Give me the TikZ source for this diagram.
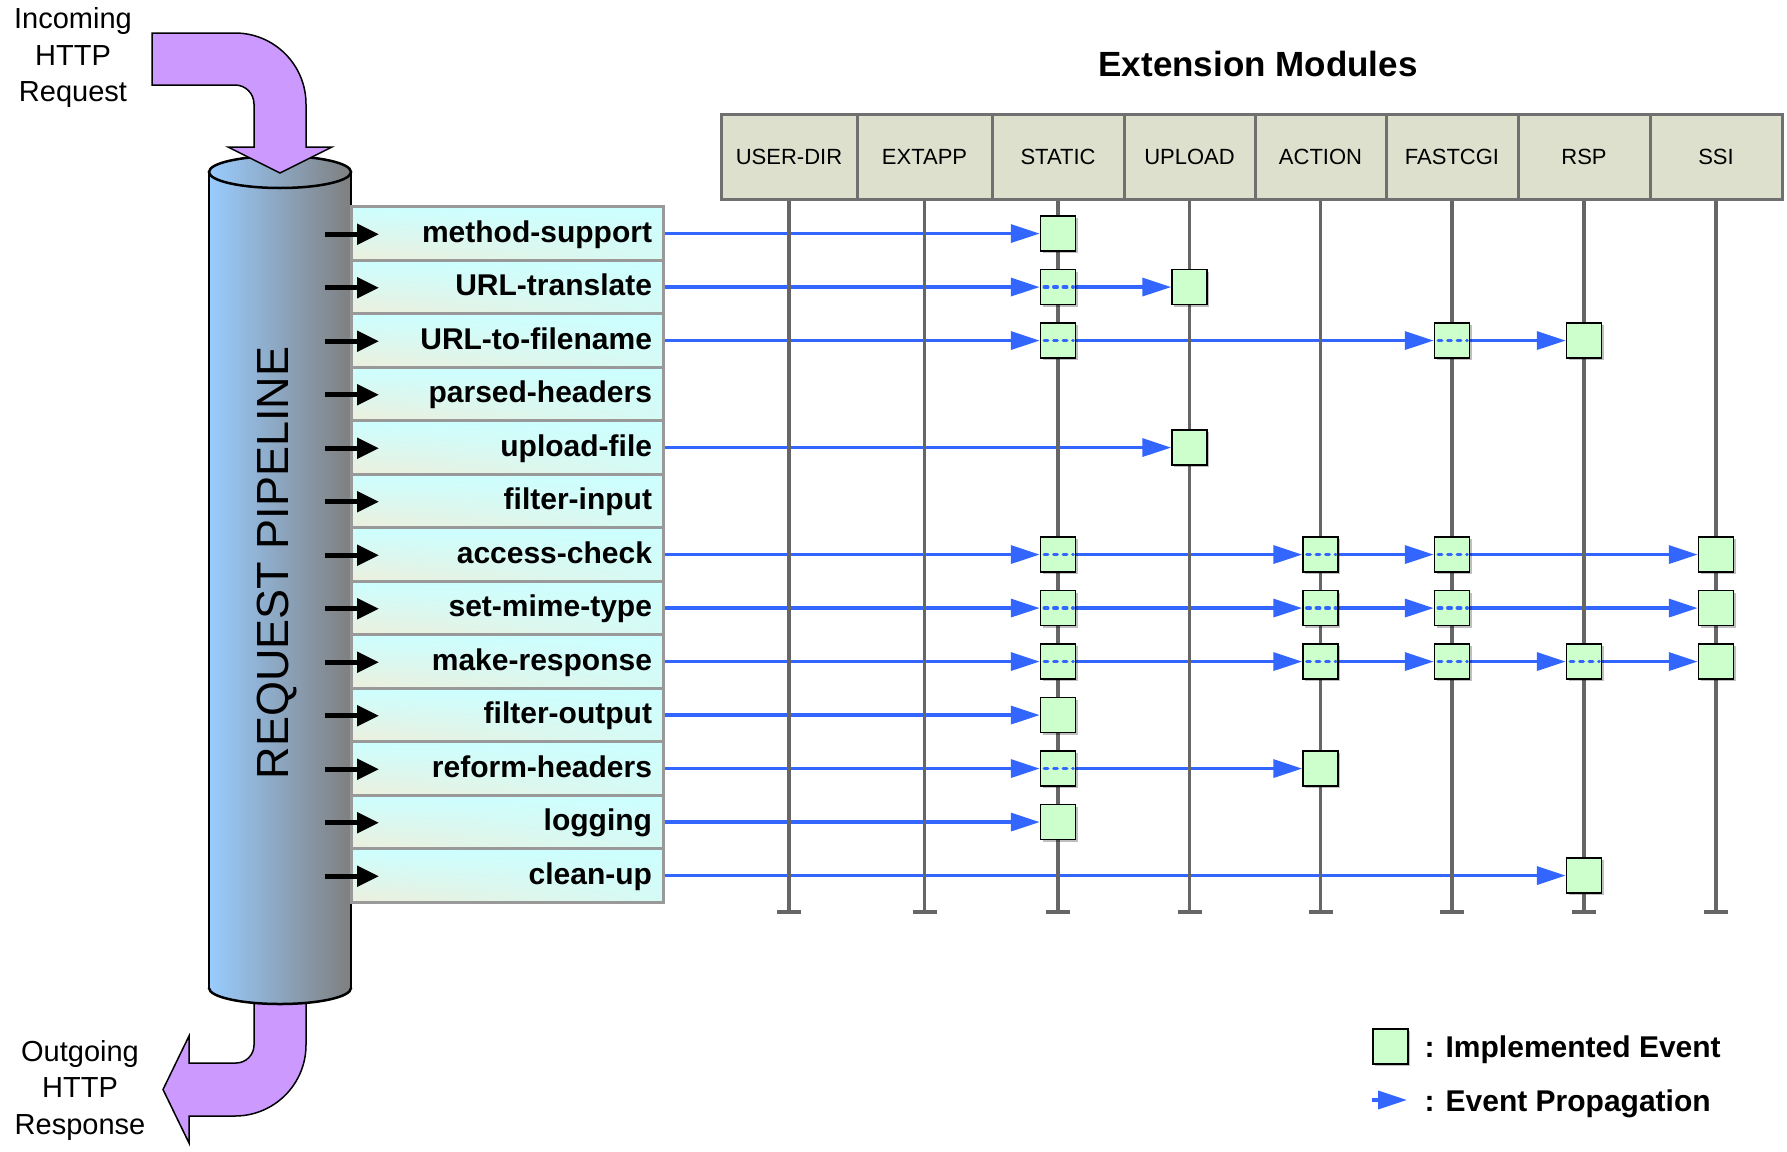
\documentclass[tikz,border=0pt]{standalone}
\usepackage{fontspec}
\setmainfont{Liberation Sans}
\usetikzlibrary{arrows.meta,shadows,shadings}

\pgfdeclarelayer{flows}
\pgfdeclarelayer{lines}
\pgfsetlayers{flows,lines,main}

\definecolor{purp}{HTML}{CC99FF}
\definecolor{cylL}{HTML}{99CCFF}
\definecolor{cylR}{HTML}{7F7F7F}
\definecolor{hdrfill}{HTML}{DDE0CC}
\definecolor{hdrline}{HTML}{707070}
\definecolor{rowline}{HTML}{999999}
\definecolor{rowcyan}{HTML}{CCFFFF}
\definecolor{rowbeige}{HTML}{EDEFDD}
\definecolor{rowlight}{HTML}{D6FAF4}
\definecolor{evfill}{HTML}{CCFFCC}
\definecolor{flow}{HTML}{3366FF}
\definecolor{life}{HTML}{666666}

\tikzset{
  hdr/.style={draw=hdrline, line width=3pt, fill=hdrfill, minimum height=85pt,
    inner sep=0pt, font=\fontsize{22}{26}\selectfont},
  rowbox/.style={shade, upper left=rowcyan, upper right=rowcyan,
    lower left=rowbeige, lower right=rowlight, draw=rowline, line width=3pt,
    minimum width=312pt, minimum height=53.5pt, inner xsep=11pt, inner ysep=0pt,
    text width=290pt, align=right, text height=23pt, text depth=5.6pt,
    font=\fontsize{30}{36}\selectfont\bfseries},
  evbox/.style={draw=black, line width=1.5pt, fill=evfill, minimum size=35pt,
    inner sep=0pt, drop shadow={shadow xshift=2pt, shadow yshift=-2pt,
    fill=black, opacity=0.25}},
  flowarrow/.style={draw=flow, line width=3.5pt, -{Triangle[length=29pt,width=18pt]}},
  flowdash/.style={draw=flow, line width=3.5pt, line cap=round, dash pattern=on 3.5pt off 6pt},
  lifeline/.style={draw=life, line width=3.5pt},
  blkarrow/.style={draw=black, line width=5pt, -{Triangle[length=22pt,width=20pt]}},
  purpfill/.style={fill=purp, draw=black, line width=1.5pt, line join=miter},
  cylshade/.style={left color=cylL, right color=cylR},
  cylline/.style={draw=black, line width=2.5pt},
  sidetext/.style={align=center, font=\fontsize{29}{36.5}\selectfont},
  legtext/.style={anchor=west, font=\fontsize{30}{36}\selectfont\bfseries},
}

% chain of implemented events on one pipeline row: #1 row, #2 module columns
\newcommand\evchain[2]{%
  \foreach \c [count=\k, remember=\c as \p (initially 0)] in {#2} {%
    \node[evbox] (e#1-\c) at (h\c.center |- r#1.center) {};
    \begin{pgfonlayer}{flows}
      \ifnum\k=1
        \draw[flowarrow] (r#1.east) -- (e#1-\c.west);
      \else
        \draw[flowarrow] (e#1-\p.east) -- (e#1-\c.west);
      \fi
    \end{pgfonlayer}
    \ifnum\k>1
      \draw[flowdash] ([xshift=4.5pt]e#1-\p.west) -- ([xshift=-3pt]e#1-\p.east);
    \fi
  }%
}

\begin{document}
\begin{tikzpicture}[x=1pt,y=-1pt]
\useasboundingbox (0,0) rectangle (1787,1151);

% outgoing response arrow (starts under the pipeline)
\draw[purpfill] (254,985) -- (254,1045) .. controls (254,1054.9) and (245.9,1063) .. (236,1063)
  -- (189,1063) -- (189,1036) -- (163,1089.5) -- (189,1143) -- (189,1116) -- (235,1116)
  .. controls (274.2,1116) and (306,1084.2) .. (306,1045) -- (306,985) -- cycle;

% request pipeline cylinder
\shade[cylshade] (209,172) rectangle (351,988);
\shade[cylshade] (280,988) ellipse [x radius=71, y radius=16];
\draw[cylline] (209,172) -- (209,988) (351,172) -- (351,988);
\begin{scope}
  \clip (200,988) rectangle (360,1012);
  \draw[cylline] (280,988) ellipse [x radius=71, y radius=16];
\end{scope}
\shade[cylshade] (280,172) ellipse [x radius=71, y radius=16];
\draw[cylline] (280,172) ellipse [x radius=71, y radius=16];

% incoming request arrow
\draw[purpfill] (152,33) -- (235,33) .. controls (274.2,33) and (306,64.8) .. (306,104)
  -- (306,147) -- (332,147) -- (280,173) -- (228,147) -- (254,147) -- (254,104)
  .. controls (254,93.5) and (245.5,85) .. (235,85) -- (152,85) -- cycle;

\node[rotate=90, font=\fontsize{45}{54}\selectfont] (pipe) at (277,563) {REQUEST PIPELINE};

\node[sidetext] (inreq) at (73,58) {Incoming\\HTTP\\Request};
\node[sidetext] (outresp) at (80,1090) {Outgoing\\HTTP\\Response};

% pipeline stages
\foreach \name [count=\i from 0] in {method-support,URL-translate,URL-to-filename,
  parsed-headers,upload-file,filter-input,access-check,set-mime-type,make-response,
  filter-output,reform-headers,logging,clean-up} {
  \node[rowbox] (r\i) at (507,{206.8+53.5*(\i+0.5)}) {\name};
  \coordinate (bs\i) at (325,{207.5+53.5*(\i+0.5)});
  \coordinate (bt\i) at (379,{207.5+53.5*(\i+0.5)});
  \draw[blkarrow] (bs\i) -- (bt\i);
}

% extension module headers and their lifelines
\node[font=\fontsize{35}{42}\selectfont\bfseries] (title) at (1258,64) {Extension Modules};
\foreach \lab/\l/\r [count=\j from 0] in {USER-DIR/721/857,EXTAPP/857/992,STATIC/992/1124,
  UPLOAD/1124/1255,ACTION/1255/1386,FASTCGI/1386/1518,RSP/1518/1650,SSI/1650/1782} {
  \node[hdr, minimum width={(\r-\l)*1pt}] (h\j) at ({(\l+\r)/2},157) {\lab};
  \coordinate (lb\j) at (h\j.south |- 0,912);
  \begin{pgfonlayer}{lines}
    \draw[lifeline] (h\j.south) -- (lb\j);
    \draw[lifeline] ([xshift=-12pt]lb\j) -- ([xshift=12pt]lb\j);
  \end{pgfonlayer}
}

% implemented events per stage (columns: 0 USER-DIR ... 7 SSI)
\evchain{0}{2}
\evchain{1}{2,3}
\evchain{2}{2,5,6}
\evchain{4}{3}
\evchain{6}{2,4,5,7}
\evchain{7}{2,4,5,7}
\evchain{8}{2,4,5,6,7}
\evchain{9}{2}
\evchain{10}{2,4}
\evchain{11}{2}
\evchain{12}{6}

% legend
\node[evbox] (legsq) at (1390.5,1046.5) {};
\node[legtext] (leg1) at (1421,1049.5) {: Implemented Event};
\coordinate (legA) at (1372,1100);
\coordinate (legB) at (1407,1100);
\draw[flowarrow] (legA) -- (legB);
\node[legtext] (leg2) at (1421,1103.5) {: Event Propagation};
\end{tikzpicture}
\end{document}
